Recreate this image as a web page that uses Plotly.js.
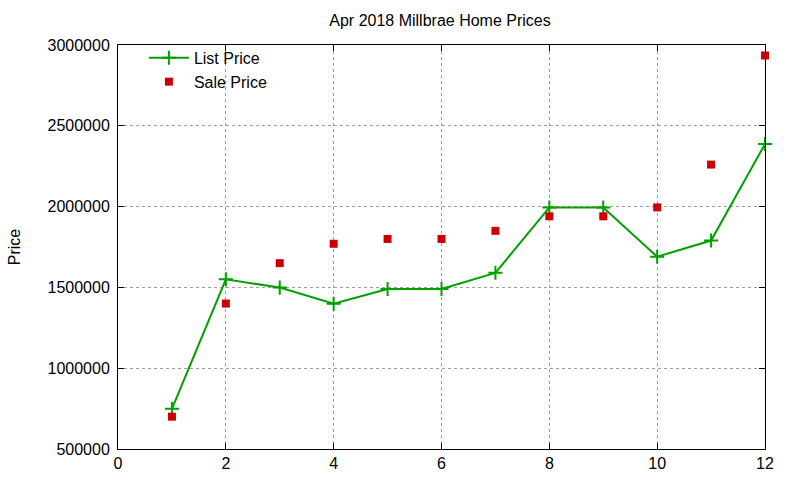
<!DOCTYPE html>
<html>
<head>
<meta charset="utf-8">
<script src="https://cdn.plot.ly/plotly-3.0.1.min.js"></script>
<style>
  html, body { margin: 0; padding: 0; background: #fff; }
  #chart { width: 800px; height: 480px; }
</style>
</head>
<body>
<div id="chart"></div>
<script>
// month index on the x axis
var months = [1, 2, 3, 4, 5, 6, 7, 8, 9, 10, 11, 12];

// prices
var listPrice = [749000, 1550000, 1499000, 1399000, 1490000, 1490000,
                 1590000, 1995000, 1995000, 1690000, 1790000, 2388000];
var salePrice = [700000, 1400000, 1650000, 1770000, 1800000, 1800000,
                 1850000, 1940000, 1940000, 1995000, 2260000, 2935000];

var xTicks = [0, 2, 4, 6, 8, 10, 12];
var yTicks = [500000, 1000000, 1500000, 2000000, 2500000, 3000000];

var fontFam = 'Liberation Sans, Arial, sans-serif';

var traceList = {
  x: months,
  y: listPrice,
  name: 'List Price',
  type: 'scatter',
  mode: 'lines+markers',
  line: { color: '#00a000', width: 2 },
  marker: { symbol: 'cross-thin', size: 10, line: { color: '#00a000', width: 2 } },
  cliponaxis: false
};

var traceSale = {
  x: months,
  y: salePrice,
  name: 'Sale Price',
  type: 'scatter',
  mode: 'markers',
  marker: { symbol: 'square', size: 8, color: '#cc0000' },
  cliponaxis: false
};

var axisStyle = {
  showline: true,
  linecolor: '#000',
  linewidth: 1,
  mirror: 'ticks',
  ticks: 'inside',
  ticklen: 6,
  tickcolor: '#000',
  showgrid: true,
  gridcolor: '#a0a0a0',
  griddash: 'dot',
  gridwidth: 1,
  zeroline: false,
  tickfont: { family: fontFam, size: 16, color: '#000' }
};

var layout = {
  width: 800,
  height: 480,
  margin: { l: 118, r: 35, t: 45, b: 31 },
  paper_bgcolor: '#fff',
  plot_bgcolor: '#fff',
  font: { family: fontFam, color: '#000' },
  title: {
    text: 'Apr 2018 Millbrae Home Prices',
    font: { family: fontFam, size: 16, color: '#000' },
    x: 0.55, xanchor: 'center', y: 0.957, yanchor: 'middle'
  },
  xaxis: Object.assign({}, axisStyle, {
    range: [0, 12],
    tickvals: xTicks,
    ticktext: xTicks.map(String)
  }),
  yaxis: Object.assign({}, axisStyle, {
    range: [500000, 3000000],
    tickvals: yTicks,
    ticktext: yTicks.map(String),
    ticklabelstandoff: 4,
    title: { text: 'Price', font: { family: fontFam, size: 16, color: '#000' }, standoff: 22 }
  }),
  showlegend: true,
  legend: {
    x: 0.04, y: 1.01, xanchor: 'left', yanchor: 'top',
    bgcolor: 'rgba(0,0,0,0)',
    font: { family: fontFam, size: 16, color: '#000' },
    tracegroupgap: 0,
    itemwidth: 40
  }
};

Plotly.newPlot('chart', [traceList, traceSale], layout, { displayModeBar: false, staticPlot: true });
</script>
</body>
</html>
